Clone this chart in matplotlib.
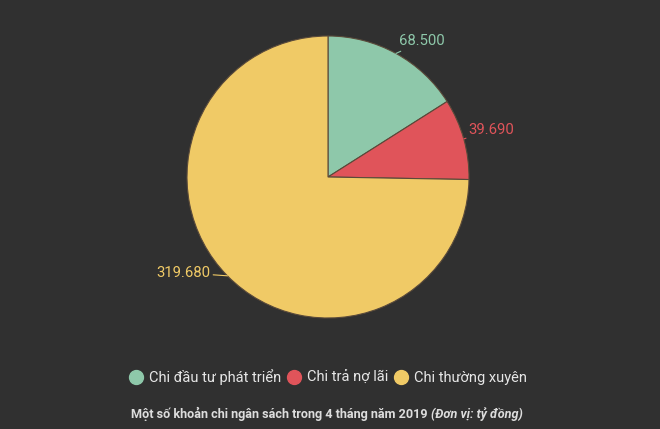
import matplotlib
matplotlib.use("Agg")
import matplotlib.pyplot as plt
import numpy as np

categories = ["Chi đầu tư phát triển", "Chi trả nợ lãi", "Chi thường xuyên"]
values = [68.500, 39.690, 319.680]
value_labels = ["68.500", "39.690", "319.680"]
colors = ["#8ec8aa", "#e0545a", "#f0ca66"]
title_main = "Một số khoản chi ngân sách trong 4 tháng năm 2019 "
title_unit = "(Đơn vị: tỷ đồng)"

plt.rcParams['font.family'] = ['Roboto', 'DejaVu Sans']
BG = "#303030"
W, H = 660, 429
fig = plt.figure(figsize=(W/100, H/100), dpi=100, facecolor=BG)

cx, cy, r = 328, 177, 141
ax = fig.add_axes([(cx - r)/W, (H - cy - r)/H, 2*r/W, 2*r/H])
ax.set_facecolor(BG)
wedges, _ = ax.pie(values, colors=colors, startangle=90, counterclock=False,
                   radius=1, wedgeprops=dict(edgecolor="#5a4a3a", linewidth=0.8))
ax.set_xlim(-1, 1)
ax.set_ylim(-1, 1)
ax.set_aspect('equal')
ax.axis('off')

offsets = [(3, 12), (5, 9), (-17, 3)]
has = ["left", "left", "right"]
for w, lab, col, off, ha in zip(wedges, value_labels, colors, offsets, has):
    ang = np.deg2rad((w.theta1 + w.theta2) / 2)
    x, y = np.cos(ang), np.sin(ang)
    ax.annotate(lab, xy=(x, y), xytext=off, textcoords='offset pixels',
                ha=ha, va='center', color=col, fontsize=10.7,
                annotation_clip=False,
                arrowprops=dict(arrowstyle='-', color=col, lw=0.8,
                                shrinkA=0, shrinkB=0))

handles = [plt.Line2D([], [], marker='o', linestyle='', markersize=10,
                      markerfacecolor=c, markeredgecolor=c) for c in colors]
leg = fig.legend(handles, categories, loc='center', bbox_to_anchor=(0.4955, 1 - 377/H),
                 ncol=3, frameon=False, fontsize=10.5, handletextpad=0.3,
                 columnspacing=0.25, handlelength=1.2, labelcolor="#e6e6e6")

fig.canvas.draw()
renderer = fig.canvas.get_renderer()
t1 = fig.text(0, 1 - 414/H, title_main, fontsize=9.1, fontweight='bold', color="#dddddd",
              va='center', ha='left')
t2 = fig.text(0, 1 - 414/H, title_unit, fontsize=9.1, fontweight='bold', style='italic',
              color="#dddddd", va='center', ha='left')
w1 = t1.get_window_extent(renderer).width
w2 = t2.get_window_extent(renderer).width
x0 = (327 - (w1 + w2) / 2)
t1.set_x(x0 / W)
t2.set_x((x0 + w1) / W)

fig.savefig("out.png", dpi=100, facecolor=BG)
